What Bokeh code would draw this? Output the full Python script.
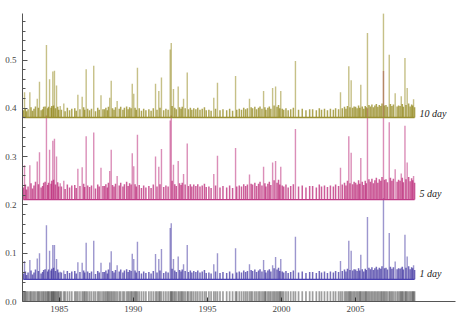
from bokeh.plotting import figure
from bokeh.models import Range1d, FixedTicker, PrintfTickFormatter
from bokeh.core.properties import value
from bokeh.embed import file_html
from bokeh.resources import INLINE

# ---------------- data ----------------
series_names = ["1 day", "5 day", "10 day"]
base_1d, base_5d, base_10d = 0.046, 0.211, 0.381
rug_top = 0.021

major_years = [1982.66, 1983.02, 1983.52, 1983.67, 1984.14, 1984.35, 1984.57, 1984.68, 1984.82,
               1985.07, 1985.31, 1986.26, 1986.55, 1986.82, 1987.33, 1987.82, 1988.41, 1988.51,
               1988.91, 1989.93, 1990.03, 1990.28, 1991.50, 1991.72, 1991.90, 1992.49, 1992.56,
               1992.71, 1993.03, 1993.39, 1993.64, 1995.43, 1995.68, 1996.90, 1997.84, 1998.79,
               1999.40, 1999.60, 1999.95, 2000.94, 2003.98, 2004.54, 2004.70, 2005.35, 2005.80,
               2006.88, 2007.27, 2007.67, 2008.08, 2008.33, 2008.48, 2008.91]
major_1d = [0.084, 0.086, 0.089, 0.100, 0.158, 0.105, 0.117, 0.117, 0.088,
            0.0615, 0.064, 0.0815, 0.080, 0.1215, 0.126, 0.080, 0.081, 0.104,
            0.075, 0.099, 0.088, 0.1235, 0.0985, 0.088, 0.1085, 0.152, 0.162,
            0.088, 0.093, 0.077, 0.117, 0.077, 0.100, 0.1105, 0.077, 0.086,
            0.075, 0.092, 0.088, 0.134, 0.084, 0.1257, 0.105, 0.0967, 0.175,
            0.214, 0.142, 0.083, 0.070, 0.138, 0.093, 0.075]
major_5d = [0.282, 0.282, 0.290, 0.309, 0.385, 0.314, 0.333, 0.337, 0.300,
            0.245, 0.250, 0.275, 0.278, 0.342, 0.350, 0.277, 0.270, 0.314,
            0.260, 0.307, 0.280, 0.345, 0.300, 0.279, 0.316, 0.375, 0.385,
            0.283, 0.291, 0.264, 0.327, 0.264, 0.302, 0.318, 0.263, 0.279,
            0.288, 0.291, 0.279, 0.357, 0.277, 0.342, 0.308, 0.297, 0.400,
            0.477, 0.371, 0.274, 0.265, 0.364, 0.288, 0.260]
major_10d = [0.433, 0.433, 0.420, 0.455, 0.531, 0.460, 0.476, 0.478, 0.447,
             0.405, 0.410, 0.428, 0.424, 0.481, 0.488, 0.427, 0.422, 0.457,
             0.415, 0.451, 0.430, 0.484, 0.451, 0.436, 0.464, 0.522, 0.535,
             0.440, 0.445, 0.420, 0.474, 0.422, 0.453, 0.467, 0.420, 0.436,
             0.442, 0.445, 0.436, 0.498, 0.433, 0.487, 0.458, 0.449, 0.556,
             0.597, 0.511, 0.431, 0.425, 0.504, 0.442, 0.419]

minor_years = [1982.58, 1982.72, 1982.80, 1982.90,
               1983.10, 1983.20, 1983.30, 1983.40, 1983.60, 1983.78, 1983.88, 1983.95,
               1984.05, 1984.22, 1984.28, 1984.45, 1984.50, 1984.62, 1984.75, 1984.90, 1984.97,
               1985.15, 1985.40, 1985.55, 1985.70, 1985.85,
               1986.05, 1986.15, 1986.40, 1986.65, 1986.72, 1986.92,
               1987.05, 1987.18, 1987.45, 1987.60, 1987.70, 1987.95,
               1988.05, 1988.15, 1988.25, 1988.32, 1988.60, 1988.70, 1988.80,
               1989.05, 1989.15, 1989.30, 1989.40, 1989.55, 1989.65, 1989.75, 1989.85,
               1990.12, 1990.20, 1990.40, 1990.55, 1990.70, 1990.85,
               1991.05, 1991.20, 1991.35, 1991.60, 1991.80,
               1992.05, 1992.20, 1992.35, 1992.62, 1992.80, 1992.90,
               1993.12, 1993.22, 1993.30, 1993.50, 1993.72, 1993.85, 1993.95,
               1994.08, 1994.22, 1994.35, 1994.50, 1994.65, 1994.80, 1994.92,
               1995.10, 1995.25, 1995.55, 1995.85,
               1996.05, 1996.30, 1996.50, 1996.70, 1996.98,
               1997.15, 1997.30, 1997.45, 1997.58, 1997.70, 1997.95,
               1998.05, 1998.20, 1998.32, 1998.45, 1998.55, 1998.68, 1998.88, 1998.95,
               1999.08, 1999.18, 1999.28, 1999.50, 1999.70, 1999.80, 1999.88,
               2000.05, 2000.15, 2000.30, 2000.45, 2000.62, 2000.80,
               2001.15, 2001.40, 2001.65, 2001.90,
               2002.10, 2002.35, 2002.55, 2002.70, 2002.90,
               2003.10, 2003.30, 2003.50, 2003.65, 2003.85,
               2004.10, 2004.25, 2004.35, 2004.45, 2004.62, 2004.80, 2004.90,
               2005.00, 2005.10, 2005.20, 2005.28, 2005.45, 2005.55, 2005.65, 2005.72, 2005.90,
               2006.00, 2006.10, 2006.20, 2006.30, 2006.40, 2006.50, 2006.60, 2006.70, 2006.78, 2006.95,
               2007.05, 2007.15, 2007.35, 2007.45, 2007.55, 2007.80, 2007.90,
               2008.00, 2008.15, 2008.22, 2008.40, 2008.58, 2008.68, 2008.78, 2008.85, 2008.98]
minor_1d = [.058, .062, .055, .060,
            .064, .056, .060, .066, .063, .058, .061, .065,
            .067, .062, .066, .064, .068, .070, .063, .066, .060,
            .060, .057, .063, .059, .062,
            .063, .058, .061, .064, .060, .062,
            .059, .062, .057, .063, .060, .061,
            .061, .064, .058, .066, .063, .060, .065,
            .062, .066, .060, .064, .067, .061, .065, .063,
            .064, .060, .063, .058, .062, .059,
            .061, .058, .063, .060, .064,
            .059, .062, .060, .068, .064, .061,
            .065, .062, .066, .063, .061, .064, .060,
            .063, .061, .064, .060, .062, .065, .059,
            .060, .058, .062, .059,
            .061, .059, .062, .058, .060,
            .062, .060, .064, .061, .063, .065,
            .063, .066, .061, .064, .067, .062, .065, .060,
            .064, .067, .062, .069, .066, .070, .063,
            .062, .060, .063, .059, .061, .064,
            .060, .062, .059, .061,
            .061, .059, .063, .060, .062,
            .059, .062, .060, .063, .061,
            .063, .066, .062, .068, .065, .064, .067,
            .066, .063, .069, .064, .067, .062, .068, .065, .070,
            .067, .071, .065, .069, .072, .066, .070, .068, .073, .069,
            .070, .066, .072, .068, .071, .067, .069,
            .068, .072, .066, .070, .073, .067, .071, .069, .065]
minor_5d = [.236, .242, .232, .238,
            .245, .234, .240, .248, .243, .236, .239, .246,
            .248, .241, .246, .244, .250, .252, .242, .247, .238,
            .238, .233, .242, .236, .240,
            .241, .235, .239, .244, .237, .240,
            .237, .240, .234, .242, .238, .239,
            .239, .243, .236, .246, .241, .238, .244,
            .240, .246, .238, .243, .248, .239, .245, .242,
            .243, .238, .241, .235, .240, .236,
            .239, .235, .242, .238, .243,
            .237, .240, .238, .250, .243, .239,
            .245, .241, .246, .242, .239, .243, .238,
            .242, .239, .243, .238, .240, .244, .237,
            .238, .235, .240, .236,
            .239, .236, .240, .235, .238,
            .240, .238, .243, .239, .242, .244,
            .242, .246, .239, .244, .248, .240, .245, .238,
            .244, .248, .241, .251, .246, .252, .242,
            .240, .238, .242, .236, .239, .243,
            .238, .240, .236, .239,
            .239, .236, .242, .238, .240,
            .237, .240, .238, .242, .239,
            .242, .246, .240, .250, .245, .243, .248,
            .246, .242, .251, .244, .248, .241, .250, .245, .253,
            .248, .254, .245, .251, .256, .246, .253, .250, .258, .252,
            .253, .247, .256, .250, .254, .248, .252,
            .250, .256, .247, .253, .258, .249, .255, .251, .246]
minor_10d = [.396, .400, .394, .398,
             .402, .395, .399, .404, .401, .396, .398, .403,
             .404, .400, .403, .401, .405, .406, .400, .403, .397,
             .397, .394, .401, .396, .399,
             .400, .395, .398, .402, .397, .399,
             .396, .399, .394, .401, .397, .398,
             .398, .401, .396, .403, .400, .397, .402,
             .399, .403, .397, .401, .404, .398, .402, .400,
             .401, .397, .400, .395, .399, .396,
             .398, .395, .400, .397, .401,
             .396, .399, .397, .405, .401, .398,
             .402, .399, .403, .400, .398, .401, .397,
             .400, .398, .401, .397, .399, .402, .396,
             .397, .395, .399, .396,
             .398, .396, .399, .395, .397,
             .399, .397, .401, .398, .400, .402,
             .400, .403, .398, .401, .404, .399, .402, .397,
             .401, .404, .399, .406, .403, .407, .400,
             .399, .397, .400, .396, .398, .401,
             .397, .399, .396, .398,
             .398, .396, .400, .397, .399,
             .396, .399, .397, .400, .398,
             .400, .403, .399, .405, .402, .401, .404,
             .403, .400, .406, .401, .404, .399, .405, .402, .407,
             .404, .408, .402, .406, .409, .403, .407, .405, .410, .406,
             .407, .403, .409, .405, .408, .404, .406,
             .405, .409, .403, .407, .410, .404, .408, .406, .402]

x_ticks = [1985, 1990, 1995, 2000, 2005]
y_ticks = [0.0, 0.1, 0.2, 0.3, 0.4, 0.5]
y_minor = [0.02, 0.04, 0.06, 0.08, 0.12, 0.14, 0.16, 0.18, 0.22, 0.24, 0.26, 0.28,
           0.32, 0.34, 0.36, 0.38, 0.42, 0.44, 0.46, 0.48, 0.52, 0.54, 0.56, 0.58]

# ---------------- figure ----------------
p = figure(width=464, height=322, output_backend="svg", toolbar_location=None,
           x_range=Range1d(1982.524, 2011.74), y_range=Range1d(0, 0.5963),
           min_border_left=22, min_border_right=9, min_border_top=13, min_border_bottom=21)
p.outline_line_color = None
p.grid.visible = False

all_years = minor_years + major_years
first, last = min(all_years), max(all_years)

series = [
    (base_1d, minor_1d, major_1d, "#3A2E9E", "#4A40B0"),
    (base_5d, minor_5d, major_5d, "#B81E72", "#C03A86"),
    (base_10d, minor_10d, major_10d, "#8E8210", "#9A9030"),
]
for base, mn, mj, col, lcol in series:
    p.segment(x0=minor_years, y0=[base] * len(minor_years), x1=minor_years, y1=mn,
              line_color=col, line_alpha=0.72, line_width=1.5)
    p.segment(x0=major_years, y0=[base] * len(major_years), x1=major_years, y1=mj,
              line_color=col, line_alpha=0.5, line_width=1.4)
    p.line([first, last], [base, base], line_color=lcol, line_width=1.3)

# rug / barcode of event dates
p.segment(x0=all_years, y0=[0] * len(all_years), x1=all_years, y1=[rug_top] * len(all_years),
          line_color="black", line_alpha=0.38, line_width=1.7)

# series labels
p.text(x=[last + 0.33] * 3, y=[0.0573, 0.223, 0.3886], text=series_names,
       text_font=value("Liberation Serif"), text_font_style="italic",
       text_font_size="10px", text_color="#222222", text_baseline="middle", text_align="left")

# axes
xa = p.xaxis[0]
xa.ticker = FixedTicker(ticks=x_ticks)
xa.major_tick_in = 4
xa.major_tick_out = 0
xa.minor_tick_line_color = None
xa.axis_line_color = "#555555"
xa.major_tick_line_color = "#333333"
xa.major_label_text_font = "Liberation Serif"
xa.major_label_text_font_size = "9px"
xa.major_label_text_color = "#444444"
xa.major_label_standoff = 4

ya = p.yaxis[0]
ya.ticker = FixedTicker(ticks=y_ticks, minor_ticks=y_minor)
ya.formatter = PrintfTickFormatter(format="%.1f")
ya.major_tick_in = 5
ya.major_tick_out = 0
ya.minor_tick_in = 3
ya.minor_tick_out = 0
ya.axis_line_color = "#555555"
ya.major_tick_line_color = "#555555"
ya.minor_tick_line_color = "#555555"
ya.major_label_text_font = "Liberation Serif"
ya.major_label_text_font_size = "9px"
ya.major_label_text_color = "#444444"
ya.major_label_standoff = 6

open("out.html", "w").write(file_html(p, INLINE))
